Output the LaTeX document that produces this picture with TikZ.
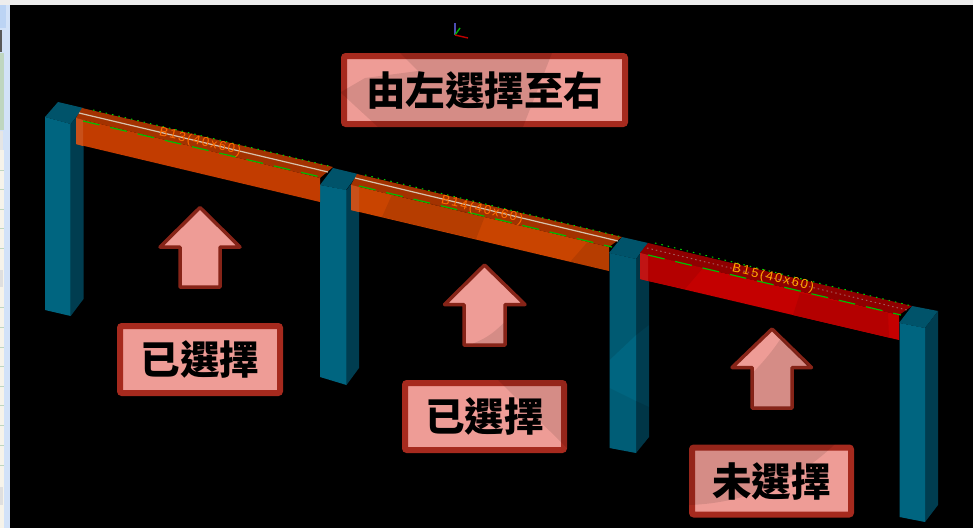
\documentclass[tikz,border=0pt]{standalone}
\usepackage{fontspec}
\setsansfont{Liberation Sans}
\newfontfamily\cjk{Noto Sans CJK TC}
\definecolor{tealfront}{HTML}{006580}
\definecolor{tealside}{HTML}{003D50}
\definecolor{tealtop}{HTML}{00536A}
\definecolor{boxedge}{HTML}{A62A1E}
\definecolor{boxfill}{HTML}{EE9C96}
\definecolor{arrowedge}{HTML}{862418}
\definecolor{orangetop}{HTML}{A33200}
\definecolor{orangefront}{HTML}{C23C00}
\definecolor{orangebright}{HTML}{C94400}
\definecolor{orangesliver}{HTML}{C8501A}
\definecolor{redtop}{HTML}{8F0000}
\definecolor{redfront}{HTML}{C40000}
\definecolor{reddark}{HTML}{B40000}
\definecolor{redsliver}{HTML}{C01414}
\definecolor{stripblue}{HTML}{D2E2F8}
\definecolor{panelblue}{HTML}{BCD4F4}
\definecolor{panelgreen}{HTML}{BFD6C0}
\definecolor{panelcream}{HTML}{F6F3EA}
\tikzset{
  callout/.style={draw=boxedge,fill=boxfill,line width=6pt,rounded corners=2pt,inner sep=0pt,
    text=black,font=\cjk\bfseries\fontsize{39.5}{39.5}\selectfont,minimum height=67pt},
  uparrow/.style={draw=arrowedge,fill=boxfill,line width=3.5pt,line join=round},
  shade/.style={fill=black,fill opacity=0.1},
  beamline/.style={line width=1.2pt,color=white!80!orange!85!black},
  greenseam/.style={line width=1.2pt,color=green!75!black,dash pattern=on 17pt off 11pt},
  greendots/.style={line width=1pt,color=green!85!black,dash pattern=on 1.5pt off 5pt},
  beamlabel/.style={font=\sffamily\fontsize{13}{13}\selectfont\addfontfeature{LetterSpace=14},rotate=-13.5,inner sep=0pt},
  panelrule/.style={line width=0.7pt,color=panelgreen}
}
\newcommand{\colbox}[9]{%
  \fill[tealside] (#3,#4) -- (#5,#6) -- (#5,#9) -- (#3,#8) -- cycle;
  \fill[tealfront] (#1,#2) -- (#3,#4) -- (#3,#8) -- (#1,#7) -- cycle;
}
\begin{document}
\begin{tikzpicture}[x=1pt,y=-1pt]
\useasboundingbox (0,0) rectangle (973,528);
\fill[black] (0,0) rectangle (973,528);
% window chrome
\fill[white!93!black] (0,0) rectangle (973,4.7);
\fill[stripblue] (0,4.7) rectangle (10,528);
\fill[panelblue] (0,4.7) rectangle (6,28);
\fill[gray!70!black] (0,30) rectangle (2,52);
\fill[panelgreen] (0,53) rectangle (4,130);
\fill[gray!20] (0,131) rectangle (3,150);
\fill[panelcream] (0,150) rectangle (4,528);
\foreach \yy in {71,90,110,170,189,209,228,248,307,327,347,366,386,405,425,445,465}
  \draw[panelrule] (0,\yy) -- (4,\yy);
\fill[gray!25] (0,270) rectangle (3,287);
\fill[gray!25] (0,487) rectangle (3,505);
% columns
\fill[tealtop] (45,117) -- (58,102) -- (83.5,108) -- (70.7,124) -- cycle;
\colbox{45}{117}{70.7}{124}{83.5}{108}{310}{316}{299}
\fill[tealtop] (320,185) -- (333,168) -- (358,174) -- (346,190) -- cycle;
\colbox{320}{185}{346.5}{190}{359}{174}{377}{385}{368}
\fill[tealtop] (609,253) -- (622,237) -- (648,243) -- (636,259) -- cycle;
\colbox{609.5}{253}{636}{259}{649}{243}{448}{453}{437}
\fill[black,fill opacity=0.1] (609.5,253) -- (636,259) -- (636,335) -- (609.5,360) -- cycle;
\fill[black,fill opacity=0.1] (636,259) -- (649,243) -- (649,325) -- (636,335) -- cycle;
\fill[black,fill opacity=0.07] (609.5,388) -- (636,401) -- (636,453) -- (609.5,448) -- cycle;
\fill[black,fill opacity=0.1] (636,401) -- (649,407) -- (649,437) -- (636,453) -- cycle;
\fill[tealtop] (899,323) -- (912,306) -- (938,311) -- (925,328) -- cycle;
\colbox{899.5}{323}{925}{328}{938}{311}{517}{522}{505}
% beam 1
\fill[orangetop] (82,108) -- (333,167) -- (320,178) -- (76,118) -- cycle;
\fill[orangefront] (76,118) -- (320,178) -- (320,202) -- (76,144) -- cycle;
\fill[orangesliver] (76,118) -- (83,120) -- (83,146) -- (76,144) -- cycle;
\draw[greendots] (93,110) -- (333,167);
\draw[greenseam] (83,121) -- (325,178);
\draw[beamline] (79,113) -- (328,172);
\node[beamlabel,text=orange!85!red] (label13) at (200,142) {B13(40x60)};
% beam 2
\fill[orangetop] (357,174) -- (622,237) -- (609,247) -- (351,185) -- cycle;
\fill[orangebright] (351,185) -- (609,247) -- (609,271) -- (351,210) -- cycle;
\fill[orangesliver] (351,185) -- (359,187) -- (359,212) -- (351,210) -- cycle;
\fill[black,fill opacity=0.09] (392,194.5) -- (485,216) -- (476,239) -- (382,217) -- cycle;
\fill[black,fill opacity=0.09] (588,241.5) -- (609,247) -- (609,271) -- (570,262) -- cycle;
\draw[greendots] (365,175) -- (622,237);
\draw[greenseam] (359,186) -- (612,247);
\draw[beamline] (355,178) -- (618,241);
\node[beamlabel,text=orange!85!red] (label14) at (482,210) {B14(40x60)};
% beam 3
\fill[redtop] (648,243) -- (912,306) -- (899,315) -- (640,253) -- cycle;
\fill[redfront] (640,253) -- (899,315) -- (899,340) -- (640,279) -- cycle;
\fill[reddark] (648,255) -- (703,268) -- (685,289) -- (648,281) -- cycle;
\fill[reddark] (800,293) -- (888,313) -- (889,337.5) -- (793,315) -- cycle;
\fill[redsliver] (640,253) -- (648,255) -- (648,281) -- (640,279) -- cycle;
\draw[greendots] (655,243) -- (912,306);
\draw[greenseam] (648,255) -- (901,315);
\draw[line width=1pt,color=gray!70!red,dash pattern=on 1.5pt off 3pt] (647,248) -- (907,310);
\node[beamlabel,text=orange!70!yellow] (label15) at (773,278) {B15(40x60)};
% axis triad
\draw[line width=1.4pt,color=blue!40!gray] (455,35) -- (455,23);
\draw[line width=1.4pt,color=green!70!black] (455,35) -- (460,28);
\draw[line width=1.4pt,color=red!75!black] (455,35) -- (468,38);
% arrows
\draw[uparrow] (200,207.5) -- (240,247) -- (220,247) -- (220,287) -- (180,287) -- (180,247) -- (160,247) -- cycle;
\draw[uparrow] (484.5,265) -- (525,304.5) -- (505,304.5) -- (505,345) -- (464,345) -- (464,304.5) -- (444.5,304.5) -- cycle;
\draw[uparrow] (772,329) -- (811.5,367.5) -- (792,367.5) -- (792,408) -- (752,408) -- (752,367.5) -- (732,367.5) -- cycle;
\fill[shade] (503.5,323) .. controls (492,335) and (482,340) .. (473,343.5) -- (503.5,343.5) -- cycle;
\fill[shade] (781,338) .. controls (772,352) and (763,362) .. (753.5,372) -- (753.5,406.5) -- (790.5,406.5) -- (790.5,366) -- (809,366) -- cycle;
% callouts
\node[callout,minimum width=281pt,minimum height=68pt] (title) at (484.5,90) {由左選擇至右};
\node[callout,minimum width=160pt] (done1) at (200,359.5) {已選擇};
\node[callout,minimum width=159pt] (done2) at (484.5,416.5) {已選擇};
\node[callout,minimum width=159pt] (todo) at (771.5,481) {未選擇};
\fill[shade] (400,53) -- (552,53) -- (523,127) -- (378,127) -- (341,93) -- (341,92) -- (365,78) -- (418,71) -- cycle;
\fill[shade] (498,380) -- (567,380) -- (567,448) -- cycle;
\fill[shade] (689,444) -- (835,444) .. controls (800,478) and (750,503) .. (689,505) -- cycle;
\end{tikzpicture}
\end{document}
